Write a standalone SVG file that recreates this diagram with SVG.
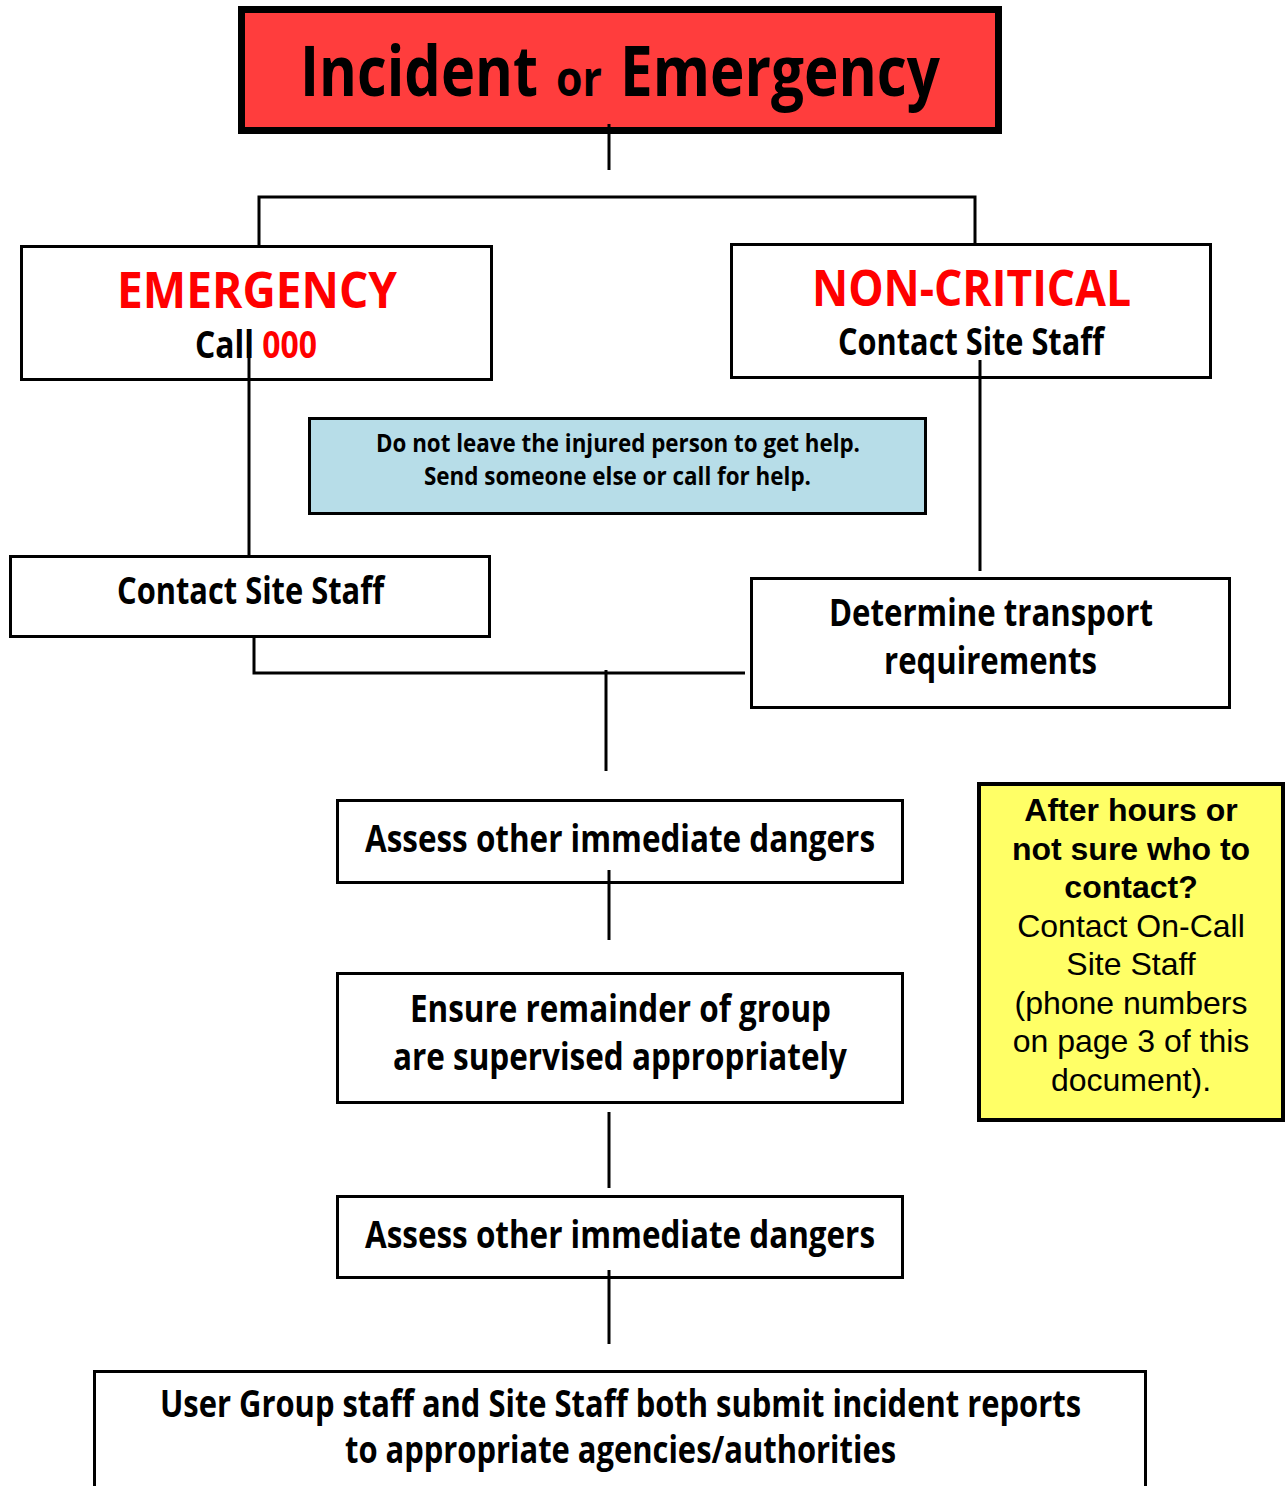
<svg xmlns="http://www.w3.org/2000/svg" width="1286" height="1486" viewBox="0 0 1286 1486">
<style>
.box{fill:#fff;stroke:#000;stroke-width:3}
.t{font-family:"Open Sans","Noto Sans",sans-serif;font-weight:bold;fill:#000}
.red{fill:#ff0000}
.c{stroke:#000;stroke-width:3;fill:none}
.y{font-family:"Liberation Sans",Arial,sans-serif;font-size:32px;fill:#000;text-anchor:middle}
</style>
<rect width="1286" height="1486" fill="#fff"/>
<g id="title">
<rect x="241.5" y="9.5" width="757" height="121" fill="#ff3d3d" stroke="#000" stroke-width="7"/>
<text class="t" x="300" y="96" font-size="70" textLength="238" lengthAdjust="spacingAndGlyphs">Incident</text>
<text class="t" x="556" y="96" font-size="50" textLength="46" lengthAdjust="spacingAndGlyphs">or</text>
<text class="t" x="620" y="96" font-size="70" textLength="320" lengthAdjust="spacingAndGlyphs">Emergency</text>
</g>
<g id="emergency">
<rect class="box" x="21.5" y="246.5" width="470" height="133"/>
<text class="t red" x="117" y="308" font-size="50" textLength="280" lengthAdjust="spacingAndGlyphs">EMERGENCY</text>
<text class="t" x="195" y="358" font-size="38" textLength="122" lengthAdjust="spacingAndGlyphs">Call <tspan class="red">000</tspan></text>
</g>
<g id="noncritical">
<rect class="box" x="731.5" y="244.5" width="479" height="133"/>
<text class="t red" x="812" y="306" font-size="50" textLength="319" lengthAdjust="spacingAndGlyphs">NON-CRITICAL</text>
<text class="t" x="838" y="355" font-size="38" textLength="266" lengthAdjust="spacingAndGlyphs">Contact Site Staff</text>
</g>
<g id="note">
<rect x="309.5" y="418.5" width="616" height="95" fill="#b7dde8" stroke="#000" stroke-width="3"/>
<text class="t" x="376" y="452" font-size="25" textLength="484" lengthAdjust="spacingAndGlyphs">Do not leave the injured person to get help.</text>
<text class="t" x="424" y="485" font-size="25" textLength="387" lengthAdjust="spacingAndGlyphs">Send someone else or call for help.</text>
</g>
<g id="contact">
<rect class="box" x="10.5" y="556.5" width="479" height="80"/>
<text class="t" x="117" y="604" font-size="38" textLength="267" lengthAdjust="spacingAndGlyphs">Contact Site Staff</text>
</g>
<g id="transport">
<rect class="box" x="751.5" y="578.5" width="478" height="129"/>
<text class="t" x="829" y="626" font-size="38" textLength="324" lengthAdjust="spacingAndGlyphs">Determine transport</text>
<text class="t" x="884" y="674" font-size="38" textLength="213" lengthAdjust="spacingAndGlyphs">requirements</text>
</g>
<g id="assess1">
<rect class="box" x="337.5" y="800.5" width="565" height="82"/>
<text class="t" x="365" y="852" font-size="38" textLength="510" lengthAdjust="spacingAndGlyphs">Assess other immediate dangers</text>
</g>
<g id="ensure">
<rect class="box" x="337.5" y="973.5" width="565" height="129"/>
<text class="t" x="410" y="1022" font-size="38" textLength="421" lengthAdjust="spacingAndGlyphs">Ensure remainder of group</text>
<text class="t" x="393" y="1070" font-size="38" textLength="454" lengthAdjust="spacingAndGlyphs">are supervised appropriately</text>
</g>
<g id="assess2">
<rect class="box" x="337.5" y="1196.5" width="565" height="81"/>
<text class="t" x="365" y="1248" font-size="38" textLength="510" lengthAdjust="spacingAndGlyphs">Assess other immediate dangers</text>
</g>
<g id="reports">
<rect class="box" x="94.5" y="1371.5" width="1051" height="140"/>
<text class="t" x="160" y="1417" font-size="38" textLength="921" lengthAdjust="spacingAndGlyphs">User Group staff and Site Staff both submit incident reports</text>
<text class="t" x="345" y="1463" font-size="38" textLength="551" lengthAdjust="spacingAndGlyphs">to appropriate agencies/authorities</text>
</g>
<g id="afterhours">
<rect x="979" y="784" width="304" height="336" fill="#ffff66" stroke="#000" stroke-width="4"/>
<text class="y" font-weight="bold" x="1131" y="821">After hours or</text>
<text class="y" font-weight="bold" x="1131" y="860">not sure who to</text>
<text class="y" font-weight="bold" x="1131" y="898">contact?</text>
<text class="y" x="1131" y="937">Contact On-Call</text>
<text class="y" x="1131" y="975">Site Staff</text>
<text class="y" x="1131" y="1014">(phone numbers</text>
<text class="y" x="1131" y="1052">on page 3 of this</text>
<text class="y" x="1131" y="1091">document).</text>
</g>
<g id="connectors">
<line class="c" x1="609" y1="124" x2="609" y2="170"/>
<polyline class="c" points="259,246 259,197 975,197 975,244"/>
<line class="c" x1="249" y1="335" x2="249" y2="556"/>
<line class="c" x1="980" y1="360" x2="980" y2="571"/>
<polyline class="c" points="254,637 254,673 745,673"/>
<line class="c" x1="606" y1="670" x2="606" y2="771"/>
<line class="c" x1="609" y1="870" x2="609" y2="940"/>
<line class="c" x1="609" y1="1112" x2="609" y2="1188"/>
<line class="c" x1="609" y1="1270" x2="609" y2="1344"/>
</g>
</svg>
